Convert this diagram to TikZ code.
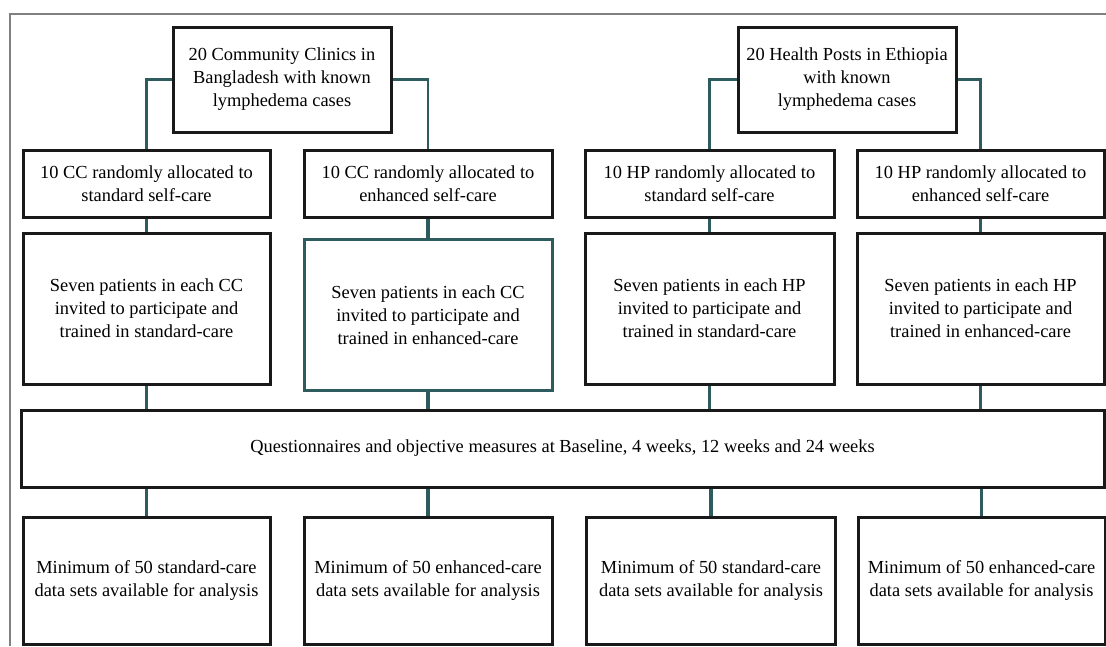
\documentclass[tikz,border=0pt]{standalone}
\usepackage{fontspec}
\setmainfont{Liberation Serif}

\definecolor{linkteal}{HTML}{2E5B5D}
\tikzset{
    box/.style={draw=black!90, line width=3pt, align=center, inner sep=0pt,
        font=\fontsize{18.4}{23}\selectfont},
    link/.style={draw=linkteal, line width=3.2pt},
    frame/.style={draw=black!50, line width=1.5pt},
}

\begin{document}
\begin{tikzpicture}[x=1pt, y=-1pt]
    \useasboundingbox (0,0) rectangle (1106,646);
    \draw[frame] (10,646) -- (10,14) -- (1106,14);

    \node[box, minimum width=218pt, minimum height=105pt] (cc) at (282,79.5)
        {20 Community Clinics in\\Bangladesh with known\\lymphedema cases};
    \node[box, minimum width=218pt, minimum height=105pt] (hp) at (847,79.5)
        {20 Health Posts in Ethiopia\\with known\\lymphedema cases};

    \node[box, minimum width=247pt, minimum height=67pt] (cc1) at (146.5,183.5)
        {10 CC randomly allocated to\\standard self-care};
    \node[box, minimum width=248pt, minimum height=67pt] (cc2) at (428,183.5)
        {10 CC randomly allocated to\\enhanced self-care};
    \node[box, minimum width=249pt, minimum height=67pt] (hp1) at (709.5,183.5)
        {10 HP randomly allocated to\\standard self-care};
    \node[box, minimum width=247pt, minimum height=67pt] (hp2) at (980.5,183.5)
        {10 HP randomly allocated to\\enhanced self-care};

    \node[box, minimum width=247pt, minimum height=151pt] (pcc1) at (146.5,308.5)
        {Seven patients in each CC\\invited to participate and\\trained in standard-care};
    \node[box, draw=linkteal, minimum width=248pt, minimum height=151pt] (pcc2) at (428,315)
        {Seven patients in each CC\\invited to participate and\\trained in enhanced-care};
    \node[box, minimum width=249pt, minimum height=151pt] (php1) at (709.5,308.5)
        {Seven patients in each HP\\invited to participate and\\trained in standard-care};
    \node[box, minimum width=247pt, minimum height=151pt] (php2) at (980.5,308.5)
        {Seven patients in each HP\\invited to participate and\\trained in enhanced-care};

    \node[box, minimum width=1083pt, minimum height=77pt] (quest) at (562.5,448.5)
        {Questionnaires and objective measures at Baseline, 4 weeks, 12 weeks and 24 weeks};

    \node[box, minimum width=247pt, minimum height=127pt] (rcc1) at (146.5,580.5)
        {Minimum of 50 standard-care\\data sets available for analysis};
    \node[box, minimum width=248pt, minimum height=127pt] (rcc2) at (428,580.5)
        {Minimum of 50 enhanced-care\\data sets available for analysis};
    \node[box, minimum width=249pt, minimum height=127pt] (rhp1) at (711,580.5)
        {Minimum of 50 standard-care\\data sets available for analysis};
    \node[box, minimum width=247pt, minimum height=127pt] (rhp2) at (981.5,580.5)
        {Minimum of 50 enhanced-care\\data sets available for analysis};

    \draw[link, line width=2.2pt] (cc.west) -| (cc1.north);
    \draw[link, line width=2.2pt] (cc.east) -| (cc2.north);
    \draw[link, line width=2.2pt] (hp.west) -| (hp1.north);
    \draw[link, line width=2.2pt] (hp.east) -| (hp2.north);
    \foreach \a/\b in {cc1/pcc1, cc2/pcc2, hp1/php1, hp2/php2} {
        \draw[link] (\a) -- (\b);
    }
    \foreach \p in {pcc1, pcc2, php1, php2} {
        \draw[link] (\p) -- (\p |- quest.north);
    }
    \foreach \r in {rcc1, rcc2, rhp1, rhp2} {
        \draw[link] (\r) -- (\r |- quest.south);
    }
\end{tikzpicture}
\end{document}
